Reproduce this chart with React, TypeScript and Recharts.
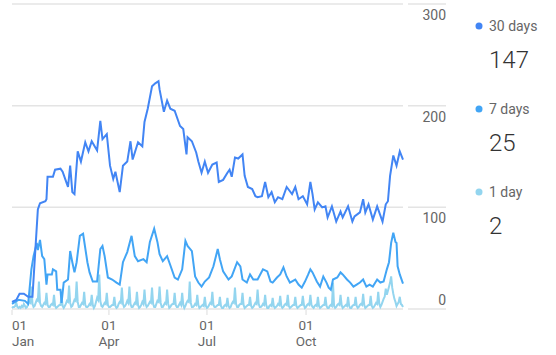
import { LineChart, Line, XAxis, YAxis, CartesianGrid } from 'recharts'

// 30-day active users (day of year, users)
const DAYS_30 = [
  0, 4, 7, 11, 15, 19, 24, 26, 31, 32, 33, 38, 40, 45, 47, 51, 52, 54, 56, 58,
  61, 64, 68, 71, 74, 79, 82, 84, 88, 91, 94, 96, 100, 103, 107, 110, 112, 117, 121, 123,
  126, 130, 133, 136, 137, 141, 144, 147, 151, 156, 159, 162, 163, 167, 171, 173, 176, 179, 182, 186,
  190, 192, 196, 200, 202, 204, 207, 210, 214, 216, 219, 223, 226, 228, 232, 235, 238, 241, 244, 247,
  251, 255, 260, 263, 266, 270, 274, 277, 279, 281, 284, 288, 291, 293, 297, 301, 305, 307, 312, 316,
  318, 323, 326, 328, 331, 335, 339, 344, 347, 349, 351, 354, 357, 360, 363,
]
const USERS_30 = [
  7, 9, 15, 15, 12, 12, 98, 104, 106, 108, 130, 130, 137, 138, 135, 123, 120, 141, 115, 113,
  155, 145, 164, 155, 165, 156, 185, 167, 172, 141, 128, 135, 115, 141, 145, 165, 147, 164, 160, 184,
  197, 219, 222, 224, 216, 194, 205, 197, 195, 180, 177, 152, 169, 165, 154, 145, 134, 145, 134, 142,
  144, 125, 127, 134, 137, 130, 149, 148, 152, 131, 120, 118, 111, 110, 111, 125, 110, 115, 105, 110,
  108, 120, 113, 120, 108, 111, 103, 125, 113, 98, 105, 100, 101, 90, 101, 86, 96, 90, 101, 86,
  91, 95, 108, 95, 103, 88, 101, 86, 103, 106, 131, 151, 141, 155, 147,
]

// 7-day active users
const DAYS_7 = [
  0, 6, 12, 15, 18, 20, 23, 24, 26, 28, 30, 32, 33, 37, 38, 41, 42, 45, 46, 48,
  52, 54, 56, 58, 60, 63, 66, 70, 72, 75, 79, 82, 84, 86, 89, 93, 97, 100, 103, 107,
  111, 114, 117, 122, 125, 128, 132, 135, 137, 140, 144, 147, 151, 154, 158, 161, 163, 167, 170, 173,
  176, 179, 183, 187, 191, 193, 196, 201, 204, 209, 212, 214, 218, 221, 224, 228, 233, 237, 240, 242,
  246, 249, 252, 255, 258, 263, 266, 269, 272, 275, 277, 279, 283, 286, 289, 292, 294, 296, 298, 302,
  305, 307, 311, 314, 317, 320, 323, 326, 329, 332, 335, 339, 342, 345, 348, 350, 352, 354, 356, 357,
  358, 360, 363,
]
const USERS_7 = [
  5, 9, 8, 5, 39, 52, 65, 58, 68, 52, 49, 24, 34, 34, 39, 37, 19, 19, 6, 26,
  29, 57, 46, 36, 46, 72, 74, 46, 36, 27, 27, 59, 62, 52, 31, 29, 26, 24, 46, 56,
  72, 52, 47, 49, 46, 66, 79, 66, 54, 47, 52, 43, 31, 29, 39, 67, 62, 57, 32, 26,
  22, 27, 31, 42, 59, 49, 37, 29, 32, 46, 42, 29, 26, 34, 29, 29, 39, 37, 27, 26,
  31, 34, 41, 32, 26, 29, 24, 21, 27, 34, 39, 36, 27, 22, 32, 26, 21, 19, 29, 31,
  36, 34, 29, 26, 22, 24, 26, 29, 22, 24, 22, 29, 26, 27, 39, 46, 65, 75, 66, 65,
  42, 34, 25,
]

// 1-day active users, one value per day, a row per week
const USERS_1 = [
  1, 2, 2, 3, 6, 2, 1,
  2, 1, 3, 2, 5, 3, 1,
  2, 5, 7, 6, 22, 5, 2,
  3, 6, 9, 8, 27, 6, 3,
  2, 4, 6, 5, 16, 4, 2,
  2, 4, 5, 4, 14, 3, 1,
  2, 3, 4, 4, 12, 3, 1,
  3, 5, 8, 7, 23, 6, 2,
  3, 6, 9, 8, 27, 7, 2,
  2, 4, 6, 5, 17, 4, 2,
  2, 3, 5, 4, 14, 4, 1,
  3, 7, 11, 9, 34, 8, 3,
  2, 4, 6, 5, 16, 4, 2,
  2, 3, 4, 4, 12, 3, 1,
  2, 5, 7, 6, 21, 5, 2,
  3, 5, 8, 6, 22, 5, 2,
  2, 4, 6, 5, 17, 4, 1,
  2, 4, 7, 5, 19, 5, 2,
  3, 5, 7, 6, 21, 5, 2,
  2, 5, 8, 7, 22, 6, 2,
  2, 4, 6, 5, 19, 5, 1,
  2, 4, 5, 5, 16, 4, 2,
  2, 4, 6, 4, 16, 4, 1,
  3, 6, 8, 7, 27, 6, 2,
  2, 3, 5, 4, 14, 4, 1,
  2, 3, 4, 3, 12, 3, 1,
  2, 4, 6, 5, 17, 4, 2,
  2, 3, 4, 4, 12, 3, 1,
  1, 3, 4, 3, 11, 3, 1,
  2, 5, 7, 6, 21, 5, 2,
  2, 4, 5, 5, 16, 4, 1,
  2, 3, 4, 4, 12, 3, 1,
  2, 4, 6, 5, 19, 5, 2,
  2, 3, 5, 4, 14, 4, 1,
  1, 3, 4, 3, 11, 3, 1,
  2, 3, 5, 4, 13, 3, 1,
  2, 4, 5, 4, 14, 3, 1,
  2, 3, 4, 4, 12, 3, 1,
  2, 3, 4, 4, 13, 4, 1,
  2, 4, 5, 4, 14, 4, 2,
  1, 3, 4, 3, 12, 3, 1,
  2, 3, 4, 4, 12, 3, 1,
  1, 3, 4, 3, 26, 3, 1,
  2, 4, 5, 4, 14, 4, 1,
  2, 3, 4, 3, 12, 3, 1,
  1, 3, 4, 4, 12, 3, 1,
  2, 4, 5, 4, 15, 4, 1,
  2, 3, 4, 4, 13, 3, 1,
  2, 4, 6, 5, 17, 5, 2,
  4, 7, 10, 12, 20, 14, 18,
  22, 26, 32, 21, 15, 10, 7,
  3, 5, 7, 12, 5, 4, 2,
]

const TICK_DAYS = [0, 90, 181, 273]
const TICK_MONTHS = ['Jan', 'Apr', 'Jul', 'Oct']
const Y_TICKS = [0, 100, 200, 300]

const SERIES = ['30 days', '7 days', '1 day']
const LATEST = [147, 25, 2]
const COLORS = ['#4285f4', '#42a5f5', '#93d5ef']

function MonthTick(props: any) {
  const { x, y, payload, index } = props
  const month = TICK_MONTHS[TICK_DAYS.indexOf(payload.value)]
  const anchor = index === 0 ? 'start' : 'middle'
  return (
    <g>
      <line x1={x} x2={x} y1={y + 1} y2={y + 6} stroke="#dcdcdc" />
      <text x={x} y={y + 21} textAnchor={anchor} fill="#666" fontSize={13.5}>
        01
      </text>
      <text x={x} y={y + 37} textAnchor={anchor} fill="#666" fontSize={13.5}>
        {month}
      </text>
    </g>
  )
}

function ValueTick(props: any) {
  const { x, y, payload } = props
  const ty = payload.value === 0 ? y - 4 : y + 16
  return (
    <g>
      <line x1={x + 5} x2={x + 43} y1={y} y2={y} stroke="#e4e4e4" strokeWidth={1.5} />
      <text x={x + 43} y={ty} textAnchor="end" fill="#666" fontSize={14}>
        {payload.value}
      </text>
    </g>
  )
}

export default function App() {
  const data30 = DAYS_30.map((day, i) => ({ day, users: USERS_30[i] }))
  const data7 = DAYS_7.map((day, i) => ({ day, users: USERS_7[i] }))
  const data1 = USERS_1.map((users, day) => ({ day, users }))

  return (
    <div
      style={{
        position: 'absolute',
        left: 0,
        top: 0,
        width: 556,
        height: 355,
        background: '#fff',
        fontFamily: 'Roboto, sans-serif',
      }}
    >
      <LineChart width={450} height={355} margin={{ top: 4, right: 0, bottom: 0, left: 12 }}>
        <CartesianGrid vertical={false} stroke="#e4e4e4" strokeWidth={1.5} />
        <XAxis
          type="number"
          dataKey="day"
          domain={[0, 363]}
          ticks={TICK_DAYS}
          interval={0}
          height={46}
          axisLine={false}
          tickLine={false}
          tickSize={0}
          tickMargin={0}
          tick={<MonthTick />}
        />
        <YAxis
          orientation="right"
          domain={[0, 300]}
          ticks={Y_TICKS}
          interval={0}
          width={47}
          axisLine={false}
          tickLine={false}
          tickSize={0}
          tickMargin={0}
          tick={<ValueTick />}
        />
        <Line data={data1} dataKey="users" stroke={COLORS[2]} strokeWidth={2} dot={false} isAnimationActive={false} />
        <Line data={data7} dataKey="users" stroke={COLORS[1]} strokeWidth={2} dot={false} isAnimationActive={false} />
        <Line data={data30} dataKey="users" stroke={COLORS[0]} strokeWidth={2} dot={false} isAnimationActive={false} />
      </LineChart>

      <svg width={100} height={250} style={{ position: 'absolute', left: 456, top: 0 }}>
        {SERIES.map((name, i) => (
          <g key={name} transform={`translate(0, ${i * 83})`}>
            <circle cx={23} cy={26} r={3.5} fill={COLORS[i]} />
            <text x={33} y={31} fill="#666" fontSize={14}>
              {name}
            </text>
            <text x={33} y={68} fill="#333" fontSize={24} fontWeight={300}>
              {LATEST[i]}
            </text>
          </g>
        ))}
      </svg>
    </div>
  )
}
